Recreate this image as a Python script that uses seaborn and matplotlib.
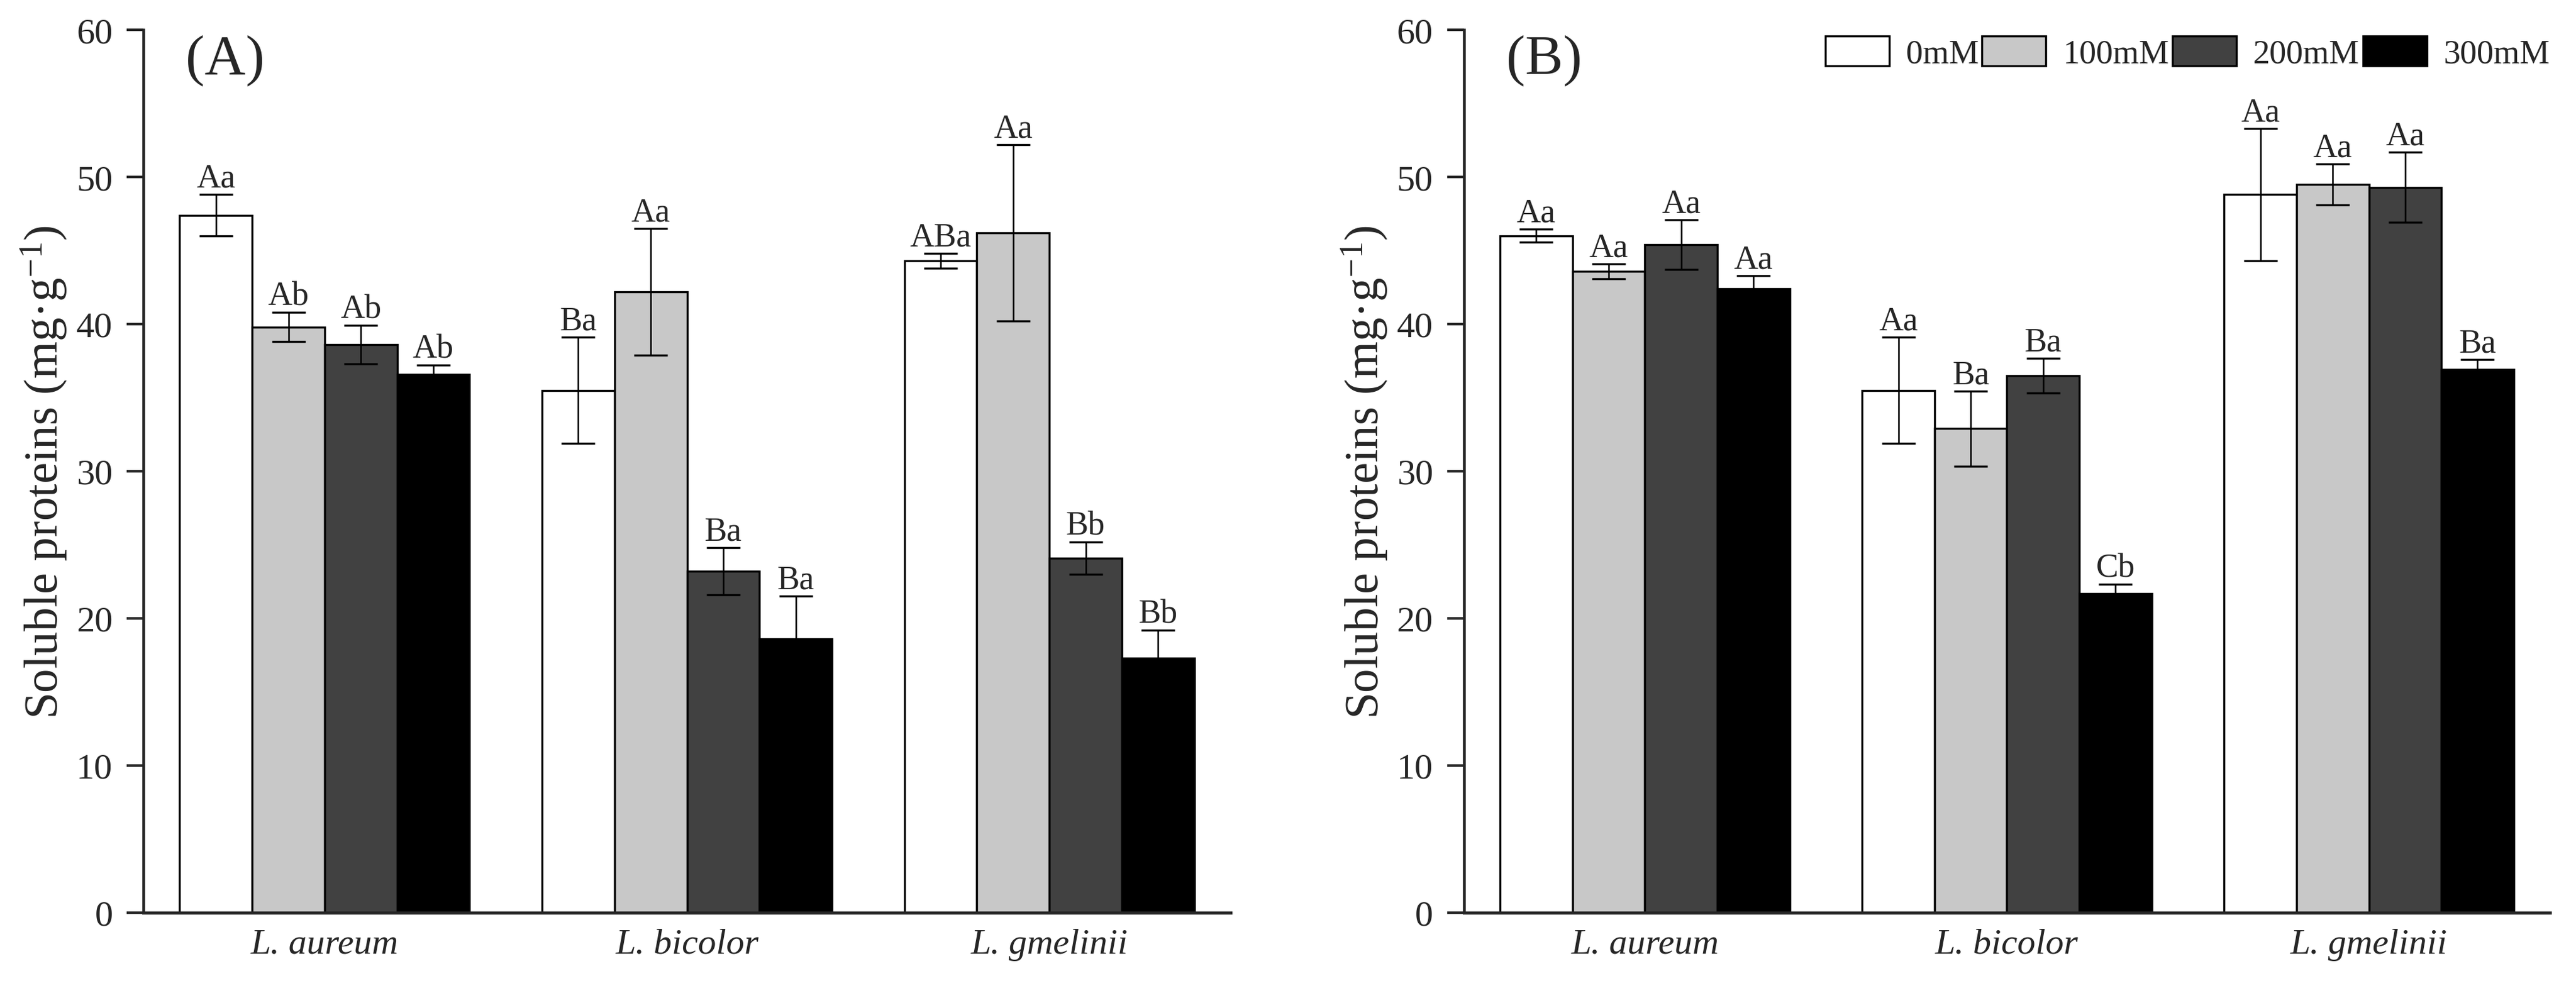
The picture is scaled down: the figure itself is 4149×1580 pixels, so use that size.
import pandas as pd
import seaborn as sns
import matplotlib.pyplot as plt

# === datos ===
species = ["L. aureum", "L. bicolor", "L. gmelinii"]
treatments = ["0mM", "100mM", "200mM", "300mM"]
bar_colors = ["#ffffff", "#c8c8c8", "#414141", "#000000"]

# panel A: one list per treatment, ordered by species
a_means = {
    "0mM": [47.4, 35.5, 44.3],
    "100mM": [39.8, 42.2, 46.2],
    "200mM": [38.6, 23.2, 24.1],
    "300mM": [36.6, 18.6, 17.3],
}
a_err = {
    "0mM": [1.4, 3.6, 0.5],
    "100mM": [1.0, 4.3, 6.0],
    "200mM": [1.3, 1.6, 1.1],
    "300mM": [0.6, 2.9, 1.9],
}
a_letters = {
    "0mM": ["Aa", "Ba", "ABa"],
    "100mM": ["Ab", "Aa", "Aa"],
    "200mM": ["Ab", "Ba", "Bb"],
    "300mM": ["Ab", "Ba", "Bb"],
}

# panel B
b_means = {
    "0mM": [46.0, 35.5, 48.8],
    "100mM": [43.6, 32.9, 49.5],
    "200mM": [45.4, 36.5, 49.3],
    "300mM": [42.4, 21.7, 36.9],
}
b_err = {
    "0mM": [0.45, 3.6, 4.5],
    "100mM": [0.5, 2.55, 1.4],
    "200mM": [1.7, 1.2, 2.4],
    "300mM": [0.9, 0.6, 0.7],
}
b_letters = {
    "0mM": ["Aa", "Aa", "Aa"],
    "100mM": ["Aa", "Ba", "Aa"],
    "200mM": ["Aa", "Ba", "Aa"],
    "300mM": ["Aa", "Cb", "Ba"],
}


def to_frame(means):
    rows = []
    for t in treatments:
        for s, v in zip(species, means[t]):
            rows.append({"species": s, "treatment": t, "value": v})
    return pd.DataFrame(rows)


sns.set_theme(style="ticks")
plt.rcParams["font.family"] = ["Liberation Serif", "DejaVu Serif"]
plt.rcParams["mathtext.fontset"] = "custom"
plt.rcParams["mathtext.rm"] = "Liberation Serif"
plt.rcParams["mathtext.it"] = "Liberation Serif:italic"

fig = plt.figure(figsize=(4149 / 300, 1581 / 300), dpi=300)
ax_a = fig.add_axes([0.0557, 0.0696, 0.422, 0.8994])
ax_b = fig.add_axes([0.5683, 0.0696, 0.4216, 0.8994])


def draw_panel(ax, means, errs, letters, tag, show_legend):
    df = to_frame(means)
    sns.barplot(
        data=df, x="species", y="value", hue="treatment",
        order=species, hue_order=treatments, palette=bar_colors,
        edgecolor="black", linewidth=0.8, errorbar=None,
        width=0.8, gap=0, saturation=1, legend=False, ax=ax,
    )

    # barras de error + letras
    for t, cont in zip(treatments, ax.containers):
        for j, bar in enumerate(cont.patches):
            xc = bar.get_x() + bar.get_width() / 2
            yv = bar.get_height()
            e = errs[t][j]
            ax.errorbar(xc, yv, yerr=e, fmt="none", ecolor="black",
                        elinewidth=0.6, capsize=6.5, capthick=0.8, zorder=3)
            ax.annotate(letters[t][j], (xc, yv + e), xytext=(0, 3),
                        textcoords="offset points", ha="center",
                        va="baseline", fontsize=13)

    ax.set_ylim(0, 60)
    ax.set_xlim(-0.5, 2.5)
    ax.set_yticks(range(0, 61, 10))
    ax.set_xlabel("")
    ax.set_ylabel(r"Soluble proteins (mg·g$^{-1}$)", fontsize=18.5)
    ax.yaxis.set_label_coords(-0.068, 0.5)
    sns.despine(ax=ax)
    ax.spines["left"].set_linewidth(1.1)
    ax.spines["bottom"].set_linewidth(1.2)
    ax.tick_params(axis="y", direction="out", length=6.4, width=1.0,
                   pad=5.5, labelsize=14)
    ax.tick_params(axis="x", length=0, pad=6, labelsize=14)
    for lab in ax.get_xticklabels():
        lab.set_fontstyle("italic")

    ax.text(0.039, 0.995, tag, transform=ax.transAxes, ha="left",
            va="top", fontsize=22)

    if show_legend:
        ax.legend(handles=ax.containers, labels=treatments,
                  loc="upper right", bbox_to_anchor=(1.0, 0.993),
                  ncol=4, frameon=False, fontsize=13, borderpad=0,
                  borderaxespad=0, handlelength=1.9, handleheight=1.0,
                  handletextpad=0.5, columnspacing=0.1)


draw_panel(ax_a, a_means, a_err, a_letters, "(A)", False)
draw_panel(ax_b, b_means, b_err, b_letters, "(B)", True)

fig.savefig("out.png", dpi=300)
